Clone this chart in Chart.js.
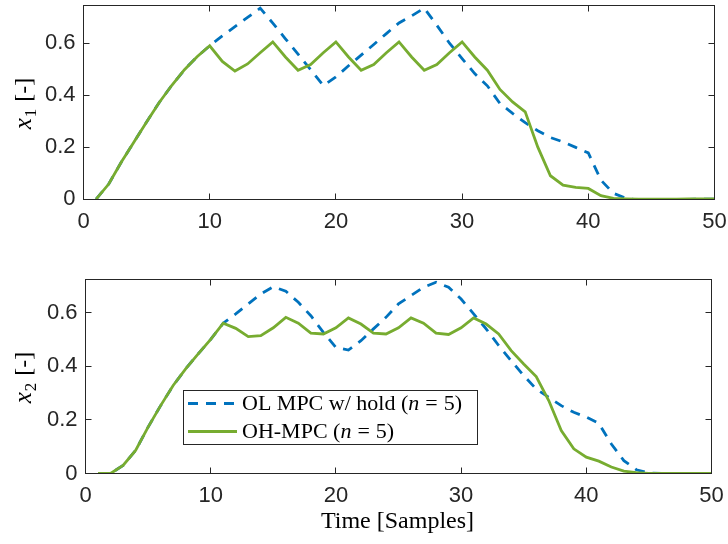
<!DOCTYPE html>
<html><head><meta charset="utf-8">
<script src="https://cdn.jsdelivr.net/npm/chart.js@4/dist/chart.umd.min.js"></script>
<style>
html,body{margin:0;padding:0;background:#fff;}
#wrap{position:relative;width:728px;height:544px;overflow:hidden;}
canvas{position:absolute;left:0;}
</style>
</head><body>
<div id="wrap">
<canvas id="c1" width="728" height="260" style="top:0px"></canvas>
<canvas id="c2" width="728" height="284" style="top:260px"></canvas>
</div>
<script>
// ---- data ----
const samples = [1,2,3,4,5,6,7,8,9,10,11,12,13,14,15,16,17,18,19,20,21,22,23,24,25,26,27,28,29,30,31,32,33,34,35,36,37,38,39,40,41,42,43,44,45,46,47,48,49,50];
const x1OL = [0,0.058,0.143,0.22,0.297,0.372,0.438,0.498,0.548,0.59,0.628,0.664,0.699,0.735,0.677,0.617,0.558,0.498,0.437,0.47,0.513,0.554,0.595,0.637,0.678,0.705,0.735,0.669,0.6,0.541,0.483,0.436,0.368,0.33,0.294,0.263,0.237,0.22,0.199,0.178,0.073,0.022,0.003,-0.004,-0.004,-0.003,-0.002,-0.001,0,0];
const x1OH = [0,0.058,0.143,0.22,0.297,0.372,0.438,0.498,0.548,0.59,0.53,0.493,0.52,0.563,0.605,0.547,0.496,0.518,0.563,0.605,0.547,0.496,0.518,0.563,0.605,0.547,0.496,0.518,0.563,0.605,0.547,0.496,0.422,0.374,0.336,0.2,0.09,0.054,0.045,0.041,0.013,0.003,0.001,0,0,0,0,0.001,0.001,0.001];
const x2OL = [0,0,0.03,0.086,0.173,0.253,0.328,0.39,0.446,0.5,0.56,0.595,0.632,0.669,0.696,0.679,0.638,0.588,0.526,0.47,0.46,0.495,0.539,0.582,0.632,0.663,0.694,0.713,0.694,0.65,0.595,0.539,0.477,0.42,0.365,0.315,0.284,0.253,0.228,0.21,0.187,0.11,0.048,0.014,0.002,0,0,0,0,0];
const x2OH = [0,0,0.03,0.086,0.173,0.253,0.328,0.39,0.446,0.5,0.56,0.541,0.51,0.514,0.543,0.582,0.56,0.523,0.52,0.543,0.58,0.557,0.523,0.52,0.543,0.58,0.56,0.523,0.518,0.543,0.58,0.557,0.52,0.458,0.408,0.361,0.272,0.16,0.092,0.061,0.046,0.024,0.009,0.003,0,0,0,0,0,0];
const xTicks = [0,10,20,30,40,50];
const xTickLabels = ['0','10','20','30','40','50'];
const yTicks = [0,0.2,0.4,0.6];
const yTickLabels = ['0','0.2','0.4','0.6'];
const seriesNames = ['OL MPC w/ hold', 'OH-MPC'];
const xTitle = 'Time [Samples]';

const BLUE = '#0072BD', GREEN = '#77AC30', AX = '#262626';
const TICKFONT = {family:'"Liberation Sans", Arial, Helvetica, sans-serif', size:22};
const SERIF = '"Liberation Serif", "Times New Roman", serif';

function pts(arr){ return samples.map((s,i)=>({x:s, y:arr[i]})); }

function makeChart(id, olData, ohData, cfg){
  const framePlugin = {
    id:'frame'+id,
    afterDatasetsDraw(chart){
      const {ctx, chartArea:a, scales} = chart;
      const xs = scales.x, ys = scales.y;
      ctx.save();
      ctx.strokeStyle = AX; ctx.lineWidth = 1;
      ctx.strokeRect(a.left, a.top, a.right-a.left, a.bottom-a.top);
      const TL = 6;
      ctx.beginPath();
      xTicks.forEach(v=>{
        const px = Math.round(xs.getPixelForValue(v)-0.5)+0.5;
        if (px <= a.left+1 || px >= a.right-1) return;
        ctx.moveTo(px, a.bottom); ctx.lineTo(px, a.bottom-TL);
        ctx.moveTo(px, a.top); ctx.lineTo(px, a.top+TL);
      });
      yTicks.forEach(v=>{
        const py = Math.round(ys.getPixelForValue(v)-0.5)+0.5;
        if (py <= a.top+1 || py >= a.bottom-1) return;
        ctx.moveTo(a.left, py); ctx.lineTo(a.left+TL, py);
        ctx.moveTo(a.right, py); ctx.lineTo(a.right-TL, py);
      });
      ctx.stroke();
      ctx.restore();
    },
    afterDraw(chart){
      const {ctx, chartArea:a} = chart;
      ctx.save();
      // y axis title: x_n [-]
      ctx.fillStyle = '#000';
      ctx.translate(cfg.yTitleX, (a.top+a.bottom)/2 + 1);
      ctx.rotate(-Math.PI/2);
      ctx.textBaseline = 'alphabetic';
      const fMain = 'italic 25px ' + SERIF, fSub = '17px ' + SERIF, fUp = '24px ' + SERIF;
      ctx.font = fMain; const w1 = ctx.measureText('x').width;
      ctx.font = fSub; const w2 = ctx.measureText(cfg.sub).width;
      ctx.font = fUp; const w3 = ctx.measureText(' [-]').width;
      let x0 = -(w1+w2+w3+2)/2;
      ctx.font = fMain; ctx.fillText('x', x0, 0); x0 += w1 + 1;
      ctx.font = fSub; ctx.fillText(cfg.sub, x0, 5); x0 += w2 + 1;
      ctx.font = fUp; ctx.fillText(' [-]', x0, 0);
      ctx.restore();

      if (cfg.legend){
        const L = cfg.legend;
        ctx.save();
        ctx.fillStyle = '#fff';
        ctx.fillRect(L.x, L.y, L.w, L.h);
        ctx.strokeStyle = AX; ctx.lineWidth = 1;
        ctx.strokeRect(L.x+0.5, L.y+0.5, L.w, L.h);
        const ds = chart.data.datasets;
        const rows = [ds[0], ds[1]];
        rows.forEach((d, i)=>{
          const cy = L.y + 13.5 + i*28;
          ctx.save();
          ctx.strokeStyle = d.borderColor; ctx.lineWidth = d.borderWidth;
          ctx.setLineDash(d.borderDash || []);
          ctx.beginPath(); ctx.moveTo(L.x+5, cy); ctx.lineTo(L.x+54, cy); ctx.stroke();
          ctx.restore();
          ctx.fillStyle = '#000'; ctx.textBaseline = 'middle';
          let tx = L.x + 59;
          // [text, italic, extra gap after]
          const parts = [[d.label + ' (', false, 0], ['n', true, 6], ['=', false, 6], ['5)', false, 0]];
          parts.forEach(([t, it, gap])=>{
            ctx.font = (it ? 'italic ' : '') + '22px ' + SERIF;
            ctx.fillText(t, tx, cy+1);
            tx += ctx.measureText(t).width + gap;
          });
        });
        ctx.restore();
      }
      if (cfg.xTitle){
        ctx.save();
        ctx.fillStyle = '#000';
        ctx.font = '24px ' + SERIF;
        ctx.textAlign = 'center'; ctx.textBaseline = 'alphabetic';
        ctx.fillText(cfg.xTitle, (a.left+a.right)/2 - 1, a.bottom + 54);
        ctx.restore();
      }
    }
  };

  return new Chart(document.getElementById(id), {
    type:'line',
    data:{
      datasets:[
        {label:seriesNames[0], data:pts(olData), borderColor:BLUE, borderWidth:2.8, borderDash:[10,8], pointRadius:0, tension:0, fill:false, order:1},
        {label:seriesNames[1], data:pts(ohData), borderColor:GREEN, borderWidth:2.8, pointRadius:0, tension:0, fill:false, order:0}
      ]
    },
    options:{
      responsive:false, animation:false, devicePixelRatio:1,
      layout:{padding:cfg.padding},
      plugins:{legend:{display:false}, tooltip:{enabled:false}, title:{display:false}},
      events:[],
      scales:{
        x:{
          type:'linear', min:0, max:50,
          grid:{display:false, drawTicks:false}, border:{display:false},
          afterBuildTicks(s){ s.ticks = xTicks.map(v=>({value:v})); },
          afterFit(s){ s.height = 40; s.paddingLeft = 0; s.paddingRight = 0; s.paddingTop = 0; s.paddingBottom = 0; },
          ticks:{autoSkip:false, maxRotation:0, minRotation:0, padding:9, color:AX, font:TICKFONT,
            callback(v){ const i = xTicks.indexOf(v); return i>=0 ? xTickLabels[i] : ''; }}
        },
        y:{
          type:'linear', min:cfg.ymin, max:cfg.ymax,
          grid:{display:false, drawTicks:false}, border:{display:false},
          afterBuildTicks(s){ s.ticks = yTicks.map(v=>({value:v})); },
          afterFit(s){ s.width = cfg.yw; s.paddingLeft = 0; s.paddingRight = 0; s.paddingTop = 0; s.paddingBottom = 0; },
          ticks:{padding:8, color:AX, font:TICKFONT,
            callback(v){ const i = yTicks.indexOf(v); return i>=0 ? yTickLabels[i] : ''; }}
        }
      }
    },
    plugins:[framePlugin]
  });
}

makeChart('c1', x1OL, x1OH, {
  padding:{left:0, top:5.5, right:13.5, bottom:20.5},
  yw:83.5, ymin:-0.0015, ymax:0.745, sub:'1', yTitleX:31
});
makeChart('c2', x2OL, x2OH, {
  padding:{left:0, top:19.5, right:16.5, bottom:30.5},
  yw:85.5, ymin:0, ymax:0.723, sub:'2', yTitleX:31,
  legend:{x:183, y:130, w:294, h:54},
  xTitle:xTitle
});
</script>
</body></html>
